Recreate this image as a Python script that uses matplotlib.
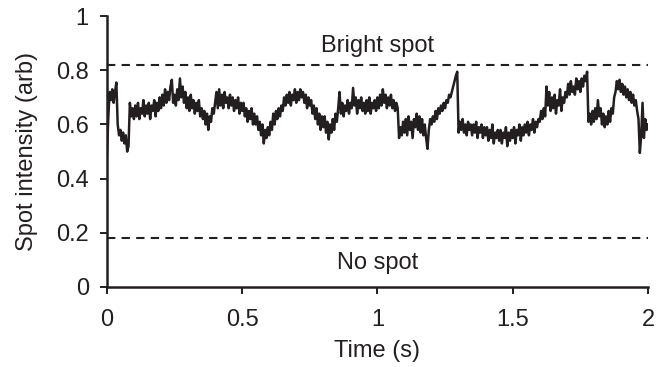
import numpy as np
import matplotlib
matplotlib.use("Agg")
import matplotlib.pyplot as plt

plt.rcParams['font.family'] = ['Liberation Sans', 'DejaVu Sans']

spot_intensity = [
    0.48, 0.62, 0.72, 0.69, 0.73, 0.68, 0.72, 0.755, 0.60, 0.56,
    0.58, 0.54, 0.57, 0.53, 0.56, 0.50, 0.52, 0.68, 0.63, 0.66,
    0.62, 0.67, 0.63, 0.68, 0.62, 0.66, 0.64, 0.69, 0.63, 0.67,
    0.64, 0.68, 0.62, 0.67, 0.65, 0.69, 0.63, 0.68, 0.65, 0.70,
    0.66, 0.71, 0.67, 0.73, 0.68, 0.72, 0.69, 0.74, 0.765, 0.68,
    0.71, 0.67, 0.73, 0.69, 0.77, 0.70, 0.74, 0.68, 0.72, 0.66,
    0.70, 0.65, 0.71, 0.66, 0.69, 0.64, 0.68, 0.65, 0.69, 0.63,
    0.66, 0.62, 0.65, 0.60, 0.64, 0.58, 0.63, 0.61, 0.66, 0.64,
    0.68, 0.72, 0.66, 0.73, 0.67, 0.71, 0.66, 0.72, 0.68, 0.70,
    0.66, 0.71, 0.67, 0.70, 0.65, 0.69, 0.66, 0.70, 0.64, 0.68,
    0.65, 0.68, 0.63, 0.66, 0.61, 0.65, 0.62, 0.66, 0.60, 0.64,
    0.60, 0.63, 0.58, 0.61, 0.56, 0.60, 0.53, 0.58, 0.55, 0.59,
    0.56, 0.61, 0.58, 0.64, 0.60, 0.65, 0.62, 0.66, 0.63, 0.67,
    0.65, 0.70, 0.67, 0.71, 0.68, 0.72, 0.67, 0.71, 0.69, 0.73,
    0.68, 0.72, 0.69, 0.73, 0.70, 0.72, 0.68, 0.71, 0.66, 0.70,
    0.67, 0.69, 0.64, 0.67, 0.62, 0.66, 0.60, 0.64, 0.58, 0.63,
    0.59, 0.63, 0.57, 0.61, 0.545, 0.60, 0.57, 0.62, 0.58, 0.64,
    0.61, 0.66, 0.72, 0.64, 0.68, 0.63, 0.67, 0.65, 0.69, 0.64,
    0.68, 0.66, 0.735, 0.67, 0.70, 0.64, 0.69, 0.66, 0.70, 0.65,
    0.68, 0.64, 0.69, 0.65, 0.70, 0.64, 0.68, 0.66, 0.69, 0.65,
    0.70, 0.66, 0.71, 0.67, 0.73, 0.68, 0.71, 0.66, 0.70, 0.67,
    0.71, 0.66, 0.69, 0.65, 0.68, 0.66, 0.55, 0.59, 0.56, 0.61,
    0.57, 0.62, 0.56, 0.63, 0.58, 0.61, 0.55, 0.62, 0.59, 0.64,
    0.58, 0.63, 0.57, 0.62, 0.56, 0.60, 0.55, 0.51, 0.58, 0.62,
    0.60, 0.63, 0.61, 0.65, 0.62, 0.66, 0.64, 0.67, 0.65, 0.68,
    0.66, 0.69, 0.68, 0.71, 0.70, 0.72, 0.74, 0.76, 0.78, 0.795,
    0.57, 0.61, 0.58, 0.62, 0.57, 0.60, 0.56, 0.61, 0.58, 0.60,
    0.56, 0.60, 0.57, 0.61, 0.55, 0.59, 0.57, 0.60, 0.55, 0.59,
    0.56, 0.59, 0.54, 0.58, 0.55, 0.60, 0.53, 0.57, 0.55, 0.58,
    0.54, 0.58, 0.53, 0.57, 0.55, 0.59, 0.52, 0.57, 0.54, 0.58,
    0.55, 0.59, 0.53, 0.58, 0.56, 0.60, 0.54, 0.59, 0.56, 0.60,
    0.57, 0.61, 0.56, 0.60, 0.58, 0.62, 0.57, 0.61, 0.59, 0.62,
    0.61, 0.65, 0.62, 0.66, 0.63, 0.74, 0.67, 0.72, 0.65, 0.70,
    0.66, 0.71, 0.64, 0.69, 0.67, 0.73, 0.65, 0.70, 0.68, 0.72,
    0.70, 0.75, 0.71, 0.76, 0.72, 0.74, 0.71, 0.77, 0.73, 0.76,
    0.72, 0.77, 0.74, 0.78, 0.76, 0.795, 0.61, 0.64, 0.60, 0.65,
    0.61, 0.66, 0.62, 0.69, 0.63, 0.66, 0.60, 0.64, 0.59, 0.63,
    0.60, 0.65, 0.61, 0.66, 0.64, 0.70, 0.72, 0.76, 0.73, 0.765,
    0.72, 0.75, 0.71, 0.74, 0.70, 0.73, 0.69, 0.72, 0.68, 0.71,
    0.67, 0.69, 0.65, 0.62, 0.495, 0.56, 0.68, 0.55, 0.62, 0.58,
    0.60,
]
time_s = np.arange(len(spot_intensity)) * 0.005

bright_level = 0.82
no_spot_level = 0.18

x_ticks = [0, 0.5, 1, 1.5, 2]
x_tick_labels = ["0", "0.5", "1", "1.5", "2"]
y_ticks = [0, 0.2, 0.4, 0.6, 0.8, 1]
y_tick_labels = ["0", "0.2", "0.4", "0.6", "0.8", "1"]

INK = "#231f20"


def main():
    fig = plt.figure(figsize=(6.68, 3.67), dpi=100)
    ax = fig.add_axes([0.160, 0.218, 0.810, 0.738])

    ax.plot(time_s, spot_intensity, color=INK, lw=1.8)
    ax.axhline(bright_level, color=INK, lw=1.5, ls=(0, (4, 3)))
    ax.axhline(no_spot_level, color=INK, lw=1.5, ls=(0, (4, 3)))

    ax.text(1.0, 0.89, "Bright spot", ha="center", va="center", fontsize=17, color=INK)
    ax.text(1.0, 0.09, "No spot", ha="center", va="center", fontsize=17, color=INK)

    ax.set_xlim(0, 2)
    ax.set_ylim(0, 1)
    ax.set_xticks(x_ticks)
    ax.set_xticklabels(x_tick_labels)
    ax.set_yticks(y_ticks)
    ax.set_yticklabels(y_tick_labels)
    ax.set_xlabel("Time (s)", fontsize=17, color=INK, labelpad=6)
    ax.set_ylabel("Spot intensity (arb)", fontsize=17, color=INK, labelpad=13)

    for side in ("top", "right"):
        ax.spines[side].set_visible(False)
    for side in ("left", "bottom"):
        ax.spines[side].set_linewidth(1.8)
        ax.spines[side].set_color(INK)
    ax.tick_params(direction="out", length=5, width=1.4, labelsize=17, colors=INK)
    ax.tick_params(axis="y", pad=8)
    ax.tick_params(axis="x", pad=11)

    fig.savefig("out.png", dpi=100)


if __name__ == "__main__":
    main()
